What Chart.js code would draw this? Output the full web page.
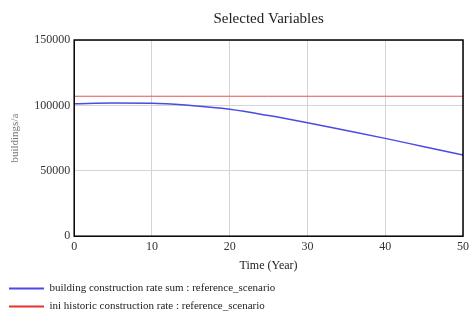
<!DOCTYPE html>
<html>
<head>
<meta charset="utf-8">
<script src="https://cdn.jsdelivr.net/npm/chart.js@4.4.0/dist/chart.umd.min.js"></script>
<style>
  html, body { margin: 0; padding: 0; background: #fff; }
  #wrap { width: 472px; height: 323px; }
</style>
</head>
<body>
<div id="wrap"><canvas id="chart" width="472" height="323"></canvas></div>
<script>
// values
const years = [0, 5, 10, 15, 20, 25, 30, 35, 40, 45, 50];
const constructionRateSum = [101300, 101800, 101700, 99900, 97000, 92200, 86700, 80800, 74800, 68400, 62100];
const iniHistoricRate = [107000, 107000, 107000, 107000, 107000, 107000, 107000, 107000, 107000, 107000, 107000];
const seriesNames = [
  'building construction rate sum : reference_scenario',
  'ini historic construction rate : reference_scenario'
];

const serif = 'Liberation Serif, Times New Roman, serif';

// black frame round the plot, like the original
const frame = {
  id: 'frame',
  afterDatasetsDraw(chart) {
    const { ctx, chartArea: a } = chart;
    ctx.save();
    ctx.strokeStyle = '#000';
    ctx.lineWidth = 1.5;
    ctx.strokeRect(a.left, a.top, a.right - a.left, a.bottom - a.top);
    ctx.restore();
  }
};

const ctx = document.getElementById('chart').getContext('2d');
new Chart(ctx, {
  type: 'line',
  data: {
    datasets: [{
      label: seriesNames[0],
      data: years.map((x, i) => ({ x, y: constructionRateSum[i] })),
      borderColor: '#4a4ae6',
      backgroundColor: '#4a4ae6',
      borderWidth: 1.5,
      pointRadius: 0,
      cubicInterpolationMode: 'monotone'
    },
    {
      label: seriesNames[1],
      data: years.map((x, i) => ({ x, y: iniHistoricRate[i] })),
      borderColor: '#e85050',
      backgroundColor: '#e83030',
      borderWidth: 1,
      pointRadius: 0
    }]
  },
  options: {
    responsive: false,
    animation: false,
    layout: { padding: { left: 2, right: 0, top: 0, bottom: 1 } },
    plugins: {
      title: {
        display: true,
        text: 'Selected Variables',
        fullSize: false,
        color: '#222',
        font: { family: serif, size: 15, weight: 'normal' },
        padding: { top: 10, bottom: 12 }
      },
      legend: {
        position: 'bottom',
        align: 'start',
        labels: {
          usePointStyle: true,
          pointStyle: 'line',
          pointStyleWidth: 35,
          padding: 7,
          color: '#222',
          font: { family: serif, size: 11 },
          generateLabels(chart) {
            const items = Chart.defaults.plugins.legend.labels.generateLabels(chart);
            items.forEach(it => { it.lineWidth = 2; it.strokeStyle = it.fillStyle; });
            return items;
          }
        }
      },
      tooltip: { enabled: false }
    },
    scales: {
      x: {
        type: 'linear',
        min: 0,
        max: 50,
        ticks: { stepSize: 10, color: '#333', padding: 3, font: { family: serif, size: 12 }, callback: v => String(v) },
        grid: { color: '#d4d4d4', drawTicks: false },
        border: { display: false },
        title: {
          display: true,
          text: 'Time (Year)',
          color: '#222',
          font: { family: serif, size: 12 },
          padding: { top: 2, bottom: 3 }
        }
      },
      y: {
        min: 0,
        max: 150000,
        ticks: { stepSize: 50000, color: '#333', padding: 4, font: { family: serif, size: 12 }, callback: v => String(v) },
        grid: { color: '#d4d4d4', drawTicks: false },
        border: { display: false },
        title: {
          display: true,
          text: 'buildings/a',
          color: '#777',
          font: { family: serif, size: 11 },
          padding: { top: 7, bottom: 8 }
        }
      }
    }
  },
  plugins: [frame]
});
</script>
</body>
</html>
